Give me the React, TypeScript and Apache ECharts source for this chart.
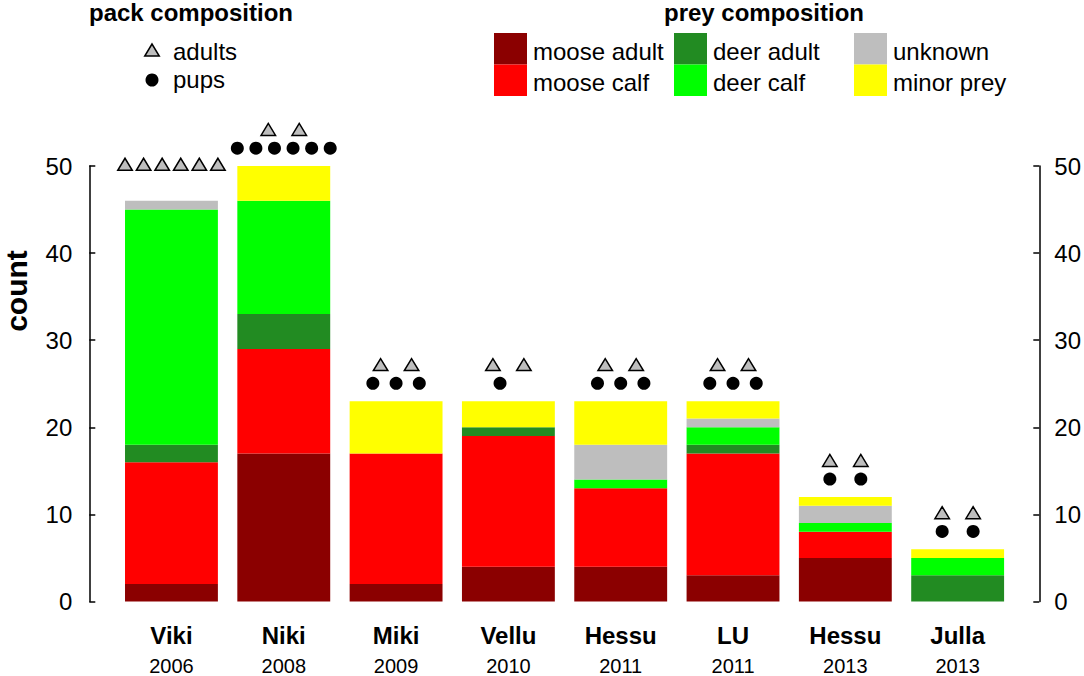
import React, { useEffect, useRef } from "react";
import * as echarts from "echarts";

const categories = ["Viki", "Niki", "Miki", "Vellu", "Hessu", "LU", "Hessu", "Julla"];
const years = ["2006", "2008", "2009", "2010", "2011", "2011", "2013", "2013"];

const mooseAdult = [2, 17, 2, 4, 4, 3, 5, 0];
const mooseCalf = [14, 12, 15, 15, 9, 14, 3, 0];
const deerAdult = [2, 4, 0, 1, 0, 1, 0, 3];
const deerCalf = [27, 13, 0, 0, 1, 2, 1, 2];
const unknown = [1, 0, 0, 0, 4, 1, 2, 0];
const minorPrey = [0, 4, 6, 3, 5, 2, 1, 1];

const adults = [6, 2, 2, 2, 2, 2, 2, 2];
const pups = [0, 6, 3, 1, 3, 3, 2, 2];

const yTicks = [0, 10, 20, 30, 40, 50];

const FONT = '"Liberation Sans", Arial, Helvetica, sans-serif';

const preySeries = [
  { name: "moose adult", data: mooseAdult, color: "#8B0000" },
  { name: "moose calf", data: mooseCalf, color: "#FF0000" },
  { name: "deer adult", data: deerAdult, color: "#228B22" },
  { name: "deer calf", data: deerCalf, color: "#00FF00" },
  { name: "unknown", data: unknown, color: "#BEBEBE" },
  { name: "minor prey", data: minorPrey, color: "#FFFF00" },
];

const totals = categories.map((_, i) =>
  preySeries.reduce((s, p) => s + p.data[i], 0)
);

function offsets(n: number, w: number): number[] {
  if (n <= 0) return [];
  if (n === 1) return [-w * 0.09];
  const step = n >= 4 ? w / (n - 1) : w / (n + 1);
  const out: number[] = [];
  for (let k = 0; k < n; k++) out.push((k - (n - 1) / 2) * step);
  return out;
}

function triangle(x: number, y: number) {
  const w = 14.5, h = 12;
  return {
    type: "polygon",
    shape: { points: [[x, y - h / 2], [x - w / 2, y + h / 2], [x + w / 2, y + h / 2]] },
    style: { fill: "#BEBEBE", stroke: "#000", lineWidth: 1.5 },
  };
}

export default function App() {
  const ref = useRef<HTMLDivElement>(null);
  useEffect(() => {
    if (!ref.current) return;
    const chart = echarts.init(ref.current, undefined, { renderer: "svg" });

    const legendCols = [494, 674, 854];
    const legendRows = [33, 64.5];
    const legendGraphics: any[] = [];
    preySeries.forEach((p, i) => {
      const col = Math.floor(i / 2);
      const row = i % 2;
      legendGraphics.push({
        type: "rect",
        shape: { x: legendCols[col], y: legendRows[row], width: 33, height: 31.5 },
        style: { fill: p.color },
      });
      legendGraphics.push({
        type: "text",
        x: legendCols[col] + 39,
        y: legendRows[row] + 18,
        style: { text: p.name, font: `24px ${FONT}`, fill: "#000", verticalAlign: "middle", align: "left" },
      });
    });

    const option: any = {
      animation: false,
      backgroundColor: "#fff",
      grid: { left: 115.3, right: 69.5, top: 166, bottom: 72, containLabel: false },
      xAxis: {
        type: "category",
        data: categories.map((c, i) => `${c}\n${years[i]}`),
        axisLine: { show: false },
        axisTick: { show: false },
        axisLabel: {
          margin: 18,
          interval: 0,
          formatter: (v: string) => {
            const [n, y] = v.split("\n");
            return `{n|${n}}\n{y|${y}}`;
          },
          rich: {
            n: { fontFamily: FONT, fontSize: 24, fontWeight: "bold", color: "#000", lineHeight: 31 },
            y: { fontFamily: FONT, fontSize: 20, color: "#000", lineHeight: 31 },
          },
        },
      },
      yAxis: [0, 1].map((k) => ({
        type: "value",
        position: k === 0 ? "left" : "right",
        offset: k === 0 ? 26 : 25.5,
        min: yTicks[0],
        max: yTicks[yTicks.length - 1],
        interval: yTicks[1] - yTicks[0],
        splitLine: { show: false },
        axisLine: { show: true, lineStyle: { color: "#000", width: 1.5 } },
        axisTick: { show: true, inside: true, length: 6, lineStyle: { color: "#000", width: 1.5 } },
        axisLabel: {
          margin: k === 0 ? 17 : 15,
          fontFamily: FONT,
          fontSize: 24,
          color: "#000",
        },
      })),
      series: [
        ...preySeries.map((p) => ({
          type: "bar",
          name: p.name,
          stack: "prey",
          data: p.data,
          barCategoryGap: "17.3%",
          itemStyle: { color: p.color },
          yAxisIndex: 0,
        })),
        {
          type: "custom",
          clip: false,
          yAxisIndex: 0,
          encode: { x: 0, y: 1 },
          data: categories.map((_, i) => [i, totals[i], adults[i], pups[i]]),
          renderItem: (params: any, api: any) => {
            const idx = api.value(0);
            const total = api.value(1);
            const na = api.value(2);
            const np = api.value(3);
            const bw = api.size([1, 0])[0] * (1 - 0.173);
            const cx = api.coord([idx, 0])[0];
            const triY = api.coord([idx, total + 4.2])[1];
            const dotY = api.coord([idx, total + 2.05])[1];
            const children: any[] = [];
            offsets(na, bw).forEach((o) => children.push(triangle(cx + o, triY)));
            offsets(np, bw).forEach((o) =>
              children.push({
                type: "circle",
                shape: { cx: cx + o, cy: dotY, r: 6.5 },
                style: { fill: "#000" },
              })
            );
            return { type: "group", children };
          },
        },
      ],
      graphic: [
        {
          type: "text",
          x: 16,
          y: 291,
          rotation: Math.PI / 2,
          style: { text: "count", font: `bold 30px ${FONT}`, fill: "#000", align: "center", verticalAlign: "middle" },
        },
        {
          type: "text",
          x: 191,
          y: 12,
          style: { text: "pack composition", font: `bold 24px ${FONT}`, fill: "#000", align: "center", verticalAlign: "middle" },
        },
        triangle(152, 50),
        {
          type: "text",
          x: 173,
          y: 51,
          style: { text: "adults", font: `24px ${FONT}`, fill: "#000", align: "left", verticalAlign: "middle" },
        },
        { type: "circle", shape: { cx: 152, cy: 80, r: 6.5 }, style: { fill: "#000" } },
        {
          type: "text",
          x: 173,
          y: 79,
          style: { text: "pups", font: `24px ${FONT}`, fill: "#000", align: "left", verticalAlign: "middle" },
        },
        {
          type: "text",
          x: 764,
          y: 12,
          style: { text: "prey composition", font: `bold 24px ${FONT}`, fill: "#000", align: "center", verticalAlign: "middle" },
        },
        ...legendGraphics,
      ],
    };
    chart.setOption(option);
    return () => chart.dispose();
  }, []);
  return (
    <div
      ref={ref}
      style={{ position: "absolute", left: 0, top: 0, width: 1084, height: 676, background: "#fff" }}
    />
  );
}
